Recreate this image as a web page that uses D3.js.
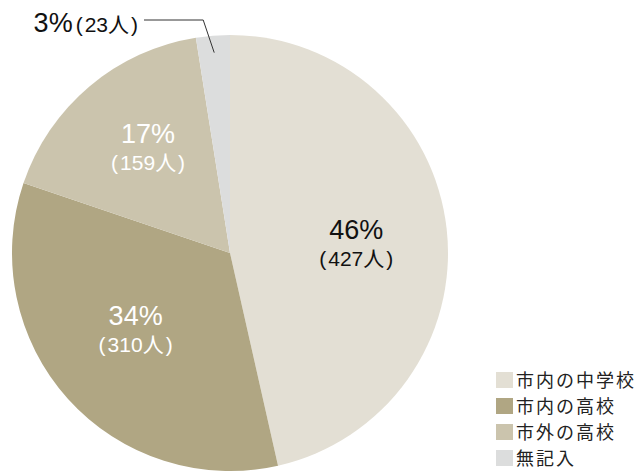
<!DOCTYPE html>
<html>
<head>
<meta charset="utf-8">
<script src="https://cdn.jsdelivr.net/npm/d3@7"></script>
<style>
  html, body { margin: 0; padding: 0; background: #fff; }
  svg { display: block; }
  text { font-family: "Liberation Sans", Arial, "Noto Sans CJK JP", sans-serif; }
  .jp { font-family: "Noto Sans CJK JP", "Liberation Sans", sans-serif; }
</style>
</head>
<body>
<svg id="chart" width="642" height="472"></svg>
<script>
// Respondents by school type
const categories = ["市内の中学校", "市内の高校", "市外の高校", "無記入"];
const counts = [427, 310, 159, 23];
const percents = [46, 34, 17, 3];
const colors = ["#e3dfd4", "#b0a683", "#cbc4ad", "#dcdddd"];
const labelColors = ["#111", "#fff", "#fff", "#111"];

const svg = d3.select("#chart");
const cx = 230, cy = 253, R = 218;

const pie = d3.pie().sort(null).value(d => d);
const arcs = pie(counts);
const arc = d3.arc().innerRadius(0).outerRadius(R);
const labelArc = d3.arc().innerRadius(127).outerRadius(127);
const leaderArc = d3.arc().innerRadius(201).outerRadius(201);

const g = svg.append("g").attr("transform", `translate(${cx},${cy})`);

g.selectAll("path.slice")
  .data(arcs)
  .join("path")
  .attr("class", "slice")
  .attr("d", arc)
  .attr("fill", (d, i) => colors[i]);

// "(427人)" with a little air inside the parentheses
function countLabel(sel, n) {
  sel.append("tspan").text("(");
  sel.append("tspan").attr("dx", 2).text(n + "人");
  sel.append("tspan").attr("dx", 2).text(")");
}

// Labels inside the larger slices (the first one sits a little lower)
const nudgeY = [13, 0, 0];
const inside = arcs.filter((d, i) => i < 3);
const lab = g.selectAll("g.lab")
  .data(inside)
  .join("g")
  .attr("class", "lab")
  .attr("transform", d => {
    const [x, y] = labelArc.centroid(d);
    return `translate(${x},${y + nudgeY[d.index]})`;
  });
lab.append("text")
  .attr("text-anchor", "middle")
  .attr("y", -13)
  .attr("font-size", 27)
  .attr("fill", d => labelColors[d.index])
  .text(d => percents[d.index] + "%");
lab.append("text")
  .attr("text-anchor", "middle")
  .attr("y", 14)
  .attr("font-size", 21)
  .attr("fill", d => labelColors[d.index])
  .each(function (d) { countLabel(d3.select(this), counts[d.index]); });

// Small slice: label outside with a leader line
const small = arcs[3];
const [lx, ly] = leaderArc.centroid(small);
const elbowX = lx - 11, elbowY = -233, endX = -86;
g.append("polyline")
  .attr("points", [[lx, ly], [elbowX, elbowY], [endX, elbowY]].map(p => p.join(",")).join(" "))
  .attr("fill", "none")
  .attr("stroke", "#333")
  .attr("stroke-width", 1);
const out = g.append("text")
  .attr("x", endX - 6)
  .attr("y", elbowY + 12)
  .attr("text-anchor", "end")
  .attr("fill", labelColors[3]);
out.append("tspan").attr("font-size", 27).text(percents[3] + "%");
const outCount = out.append("tspan").attr("font-size", 21).attr("dx", 3);
outCount.append("tspan").text("(");
out.append("tspan").attr("font-size", 21).attr("dx", 2).text(counts[3] + "人");
out.append("tspan").attr("font-size", 21).attr("dx", 2).text(")");

// Legend
const legend = svg.append("g").attr("transform", "translate(496,372)");
const rows = legend.selectAll("g")
  .data(categories)
  .join("g")
  .attr("transform", (d, i) => `translate(0,${i * 26})`);
rows.append("rect")
  .attr("width", 17)
  .attr("height", 16)
  .attr("fill", (d, i) => colors[i]);
rows.append("text")
  .attr("class", "jp")
  .attr("x", 20)
  .attr("y", 15)
  .attr("font-size", 18)
  .attr("letter-spacing", 2)
  .attr("fill", "#222")
  .text(d => d);
</script>
</body>
</html>
